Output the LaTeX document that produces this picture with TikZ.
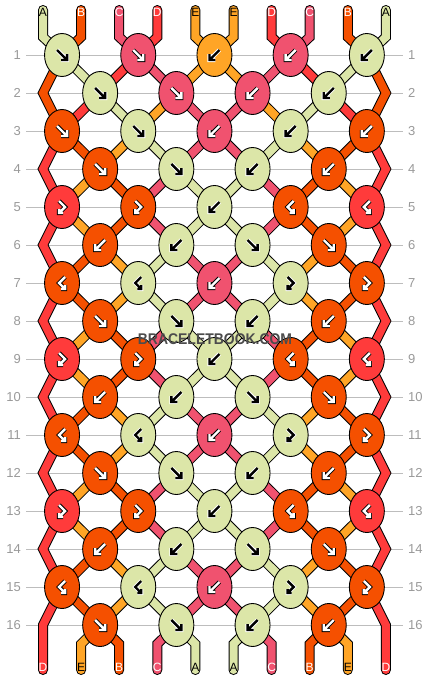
\documentclass[tikz,border=0pt]{standalone}
\usepackage{fontspec}
\setmainfont{Liberation Sans}
\usetikzlibrary{shapes.geometric,backgrounds}

\definecolor{strA}{HTML}{DCE6A8}
\definecolor{strB}{HTML}{F55000}
\definecolor{strC}{HTML}{F0526F}
\definecolor{strD}{HTML}{FF3B3B}
\definecolor{strE}{HTML}{FFA526}
\definecolor{rowgray}{HTML}{BDBDBD}
\definecolor{numgray}{HTML}{999999}

\tikzset{
  knot/.style={ellipse, draw=black, line width=0.9pt, fill=#1, minimum width=35pt, minimum height=43pt, inner sep=0pt},
  strand/.style={draw=black, line width=1pt, double=#1, double distance=8pt, line cap=round, line join=miter},
  dk/.style={draw=white, line width=0.9pt, double=black, double distance=2.4pt, line join=miter},
  lt/.style={draw=black, line width=0.9pt, double=white, double distance=2.4pt, line join=miter},
  pics/fwd/.style={code={\draw[#1] (-5,-5) -- (5,5) (-1,5) -- (5,5) -- (5,-1);}},
  pics/bwd/.style={code={\draw[#1] (5,-5) -- (-5,5) (1,5) -- (-5,5) -- (-5,-1);}},
  pics/fwdbwd/.style={code={\draw[#1] (-3,-6) -- (3,0) -- (-3,6) (1,6) -- (-3,6) -- (-3,2);}},
  pics/bwdfwd/.style={code={\draw[#1] (3,-6) -- (-3,0) -- (3,6) (-1,6) -- (3,6) -- (3,2);}},
  rowno/.style={inner sep=5pt, text=numgray, font=\fontsize{13}{13}\selectfont},
  rowline/.style={draw=rowgray, line width=1pt},
  endlbl/.style={inner sep=0pt, text=#1, font=\fontsize{12}{12}\selectfont},
}

\begin{document}
\begin{tikzpicture}[x=1pt,y=-1pt]
\useasboundingbox (0,0) rectangle (430,680);
%% knots, row by row
\node (r1a) at (62.05,55) [knot=strA] {}; \pic at (r1a) {fwd=dk};
\node (r1b) at (138.25,55) [knot=strC] {}; \pic at (r1b) {fwd=lt};
\node (r1c) at (214.45,55) [knot=strE] {}; \pic at (r1c) {bwd=dk};
\node (r1d) at (290.65,55) [knot=strC] {}; \pic at (r1d) {bwd=lt};
\node (r1e) at (366.85,55) [knot=strA] {}; \pic at (r1e) {bwd=dk};
\node (r2a) at (100.15,93) [knot=strA] {}; \pic at (r2a) {fwd=dk};
\node (r2b) at (176.35,93) [knot=strC] {}; \pic at (r2b) {fwd=lt};
\node (r2c) at (252.55,93) [knot=strC] {}; \pic at (r2c) {bwd=lt};
\node (r2d) at (328.75,93) [knot=strA] {}; \pic at (r2d) {bwd=dk};
\node (r3a) at (62.05,131) [knot=strB] {}; \pic at (r3a) {fwd=lt};
\node (r3b) at (138.25,131) [knot=strA] {}; \pic at (r3b) {fwd=dk};
\node (r3c) at (214.45,131) [knot=strC] {}; \pic at (r3c) {bwd=lt};
\node (r3d) at (290.65,131) [knot=strA] {}; \pic at (r3d) {bwd=dk};
\node (r3e) at (366.85,131) [knot=strB] {}; \pic at (r3e) {bwd=lt};
\node (r4a) at (100.15,169) [knot=strB] {}; \pic at (r4a) {fwd=lt};
\node (r4b) at (176.35,169) [knot=strA] {}; \pic at (r4b) {fwd=dk};
\node (r4c) at (252.55,169) [knot=strA] {}; \pic at (r4c) {bwd=dk};
\node (r4d) at (328.75,169) [knot=strB] {}; \pic at (r4d) {bwd=lt};
\node (r5a) at (62.05,207) [knot=strD] {}; \pic at (r5a) {fwdbwd=lt};
\node (r5b) at (138.25,207) [knot=strB] {}; \pic at (r5b) {fwdbwd=lt};
\node (r5c) at (214.45,207) [knot=strA] {}; \pic at (r5c) {bwd=dk};
\node (r5d) at (290.65,207) [knot=strB] {}; \pic at (r5d) {bwdfwd=lt};
\node (r5e) at (366.85,207) [knot=strD] {}; \pic at (r5e) {bwdfwd=lt};
\node (r6a) at (100.15,245) [knot=strB] {}; \pic at (r6a) {bwd=lt};
\node (r6b) at (176.35,245) [knot=strA] {}; \pic at (r6b) {bwd=dk};
\node (r6c) at (252.55,245) [knot=strA] {}; \pic at (r6c) {fwd=dk};
\node (r6d) at (328.75,245) [knot=strB] {}; \pic at (r6d) {fwd=lt};
\node (r7a) at (62.05,283) [knot=strB] {}; \pic at (r7a) {bwdfwd=lt};
\node (r7b) at (138.25,283) [knot=strA] {}; \pic at (r7b) {bwdfwd=dk};
\node (r7c) at (214.45,283) [knot=strC] {}; \pic at (r7c) {bwd=lt};
\node (r7d) at (290.65,283) [knot=strA] {}; \pic at (r7d) {fwdbwd=dk};
\node (r7e) at (366.85,283) [knot=strB] {}; \pic at (r7e) {fwdbwd=lt};
\node (r8a) at (100.15,321) [knot=strB] {}; \pic at (r8a) {fwd=lt};
\node (r8b) at (176.35,321) [knot=strA] {}; \pic at (r8b) {fwd=dk};
\node (r8c) at (252.55,321) [knot=strA] {}; \pic at (r8c) {bwd=dk};
\node (r8d) at (328.75,321) [knot=strB] {}; \pic at (r8d) {bwd=lt};
\node (r9a) at (62.05,359) [knot=strD] {}; \pic at (r9a) {fwdbwd=lt};
\node (r9b) at (138.25,359) [knot=strB] {}; \pic at (r9b) {fwdbwd=lt};
\node (r9c) at (214.45,359) [knot=strA] {}; \pic at (r9c) {bwd=dk};
\node (r9d) at (290.65,359) [knot=strB] {}; \pic at (r9d) {bwdfwd=lt};
\node (r9e) at (366.85,359) [knot=strD] {}; \pic at (r9e) {bwdfwd=lt};
\node (r10a) at (100.15,397) [knot=strB] {}; \pic at (r10a) {bwd=lt};
\node (r10b) at (176.35,397) [knot=strA] {}; \pic at (r10b) {bwd=dk};
\node (r10c) at (252.55,397) [knot=strA] {}; \pic at (r10c) {fwd=dk};
\node (r10d) at (328.75,397) [knot=strB] {}; \pic at (r10d) {fwd=lt};
\node (r11a) at (62.05,435) [knot=strB] {}; \pic at (r11a) {bwdfwd=lt};
\node (r11b) at (138.25,435) [knot=strA] {}; \pic at (r11b) {bwdfwd=dk};
\node (r11c) at (214.45,435) [knot=strC] {}; \pic at (r11c) {bwd=lt};
\node (r11d) at (290.65,435) [knot=strA] {}; \pic at (r11d) {fwdbwd=dk};
\node (r11e) at (366.85,435) [knot=strB] {}; \pic at (r11e) {fwdbwd=lt};
\node (r12a) at (100.15,473) [knot=strB] {}; \pic at (r12a) {fwd=lt};
\node (r12b) at (176.35,473) [knot=strA] {}; \pic at (r12b) {fwd=dk};
\node (r12c) at (252.55,473) [knot=strA] {}; \pic at (r12c) {bwd=dk};
\node (r12d) at (328.75,473) [knot=strB] {}; \pic at (r12d) {bwd=lt};
\node (r13a) at (62.05,511) [knot=strD] {}; \pic at (r13a) {fwdbwd=lt};
\node (r13b) at (138.25,511) [knot=strB] {}; \pic at (r13b) {fwdbwd=lt};
\node (r13c) at (214.45,511) [knot=strA] {}; \pic at (r13c) {bwd=dk};
\node (r13d) at (290.65,511) [knot=strB] {}; \pic at (r13d) {bwdfwd=lt};
\node (r13e) at (366.85,511) [knot=strD] {}; \pic at (r13e) {bwdfwd=lt};
\node (r14a) at (100.15,549) [knot=strB] {}; \pic at (r14a) {bwd=lt};
\node (r14b) at (176.35,549) [knot=strA] {}; \pic at (r14b) {bwd=dk};
\node (r14c) at (252.55,549) [knot=strA] {}; \pic at (r14c) {fwd=dk};
\node (r14d) at (328.75,549) [knot=strB] {}; \pic at (r14d) {fwd=lt};
\node (r15a) at (62.05,587) [knot=strB] {}; \pic at (r15a) {bwdfwd=lt};
\node (r15b) at (138.25,587) [knot=strA] {}; \pic at (r15b) {bwdfwd=dk};
\node (r15c) at (214.45,587) [knot=strC] {}; \pic at (r15c) {bwd=lt};
\node (r15d) at (290.65,587) [knot=strA] {}; \pic at (r15d) {fwdbwd=dk};
\node (r15e) at (366.85,587) [knot=strB] {}; \pic at (r15e) {fwdbwd=lt};
\node (r16a) at (100.15,625) [knot=strB] {}; \pic at (r16a) {fwd=lt};
\node (r16b) at (176.35,625) [knot=strA] {}; \pic at (r16b) {fwd=dk};
\node (r16c) at (252.55,625) [knot=strA] {}; \pic at (r16c) {bwd=dk};
\node (r16d) at (328.75,625) [knot=strB] {}; \pic at (r16d) {bwd=lt};
%% string ends and edge turns
\coordinate (tA1) at (43,10); \coordinate (tB1) at (81.1,10); \coordinate (tC1) at (119.2,10);
\coordinate (tD1) at (157.3,10); \coordinate (tE1) at (195.4,10); \coordinate (tE2) at (233.5,10);
\coordinate (tD2) at (271.6,10); \coordinate (tC2) at (309.7,10); \coordinate (tB2) at (347.8,10);
\coordinate (tA2) at (385.9,10);
\coordinate (bD1) at (43,670); \coordinate (bE2) at (81.1,670); \coordinate (bB1) at (119.2,670);
\coordinate (bC1) at (157.3,670); \coordinate (bA2) at (195.4,670); \coordinate (bA1) at (233.5,670);
\coordinate (bC2) at (271.6,670); \coordinate (bB2) at (309.7,670); \coordinate (bE1) at (347.8,670);
\coordinate (bD2) at (385.9,670);
\coordinate (edgeL2) at (43,93);    \coordinate (edgeR2) at (385.9,93);
\coordinate (edgeL4) at (43,169);   \coordinate (edgeR4) at (385.9,169);
\coordinate (edgeL6) at (43,245);   \coordinate (edgeR6) at (385.9,245);
\coordinate (edgeL8) at (43,321);   \coordinate (edgeR8) at (385.9,321);
\coordinate (edgeL10) at (43,397);  \coordinate (edgeR10) at (385.9,397);
\coordinate (edgeL12) at (43,473);  \coordinate (edgeR12) at (385.9,473);
\coordinate (edgeL14) at (43,549);  \coordinate (edgeR14) at (385.9,549);
\coordinate (edgeL16) at (43,625);  \coordinate (edgeR16) at (385.9,625);
%% end labels
\node (lA1) at (43,12.5) [endlbl=black] {A};    \node (lB1) at (81.1,12.5) [endlbl=white] {B};
\node (lC1) at (119.2,12.5) [endlbl=white] {C}; \node (lD1) at (157.3,12.5) [endlbl=white] {D};
\node (lE1) at (195.4,12.5) [endlbl=black] {E}; \node (lE2) at (233.5,12.5) [endlbl=black] {E};
\node (lD2) at (271.6,12.5) [endlbl=white] {D}; \node (lC2) at (309.7,12.5) [endlbl=white] {C};
\node (lB2) at (347.8,12.5) [endlbl=white] {B}; \node (lA2) at (385.9,12.5) [endlbl=black] {A};
\node (mD1) at (43,667) [endlbl=white] {D};    \node (mE2) at (81.1,667) [endlbl=black] {E};
\node (mB1) at (119.2,667) [endlbl=white] {B}; \node (mC1) at (157.3,667) [endlbl=white] {C};
\node (mA2) at (195.4,667) [endlbl=black] {A}; \node (mA1) at (233.5,667) [endlbl=black] {A};
\node (mC2) at (271.6,667) [endlbl=white] {C}; \node (mB2) at (309.7,667) [endlbl=white] {B};
\node (mE1) at (347.8,667) [endlbl=black] {E}; \node (mD2) at (385.9,667) [endlbl=white] {D};
%% watermark
\node (mark) at (215,339.5) [inner sep=0pt, text=black!70, font=\bfseries\fontsize{15.5}{15.5}\selectfont] {\scalebox{0.9}[1]{BRACELETBOOK.COM}};
%
\begin{scope}[on background layer]
\foreach \r in {1,...,16} {
  \node (lnum\r) at (26,{55+38*(\r-1)}) [rowno, anchor=east] {\r};
  \node (rnum\r) at (403,{55+38*(\r-1)}) [rowno, anchor=west] {\r};
  \draw [rowline] (lnum\r) -- (rnum\r);
}
\draw [strand=strA] (tA1) -- ([yshift=-27pt]tA1) -- (r1a.center) -- (r2a.center) -- (r3b.center) -- (r4b.center) -- (r5c.center) -- (r6c.center) -- (r7d.center) -- (r8c.center) -- (r9c.center) -- (r10b.center) -- (r11b.center) -- (r12b.center) -- (r13c.center) -- (r14c.center) -- (r15d.center) -- (r16c.center) -- ([yshift=26pt]bA1) -- (bA1);
\draw [strand=strA] (tA2) -- ([yshift=-27pt]tA2) -- (r1e.center) -- (r2d.center) -- (r3d.center) -- (r4c.center) -- (r5c.center) -- (r6b.center) -- (r7b.center) -- (r8b.center) -- (r9c.center) -- (r10c.center) -- (r11d.center) -- (r12c.center) -- (r13c.center) -- (r14b.center) -- (r15b.center) -- (r16b.center) -- ([yshift=26pt]bA2) -- (bA2);
\draw [strand=strB] (tB1) -- ([yshift=-27pt]tB1) -- (r1a.center) -- (edgeL2) -- (r3a.center) -- (r4a.center) -- (r5b.center) -- (r6a.center) -- (r7a.center) -- (r8a.center) -- (r9b.center) -- (r10a.center) -- (r11a.center) -- (r12a.center) -- (r13b.center) -- (r14a.center) -- (r15a.center) -- (r16a.center) -- ([yshift=26pt]bB1) -- (bB1);
\draw [strand=strB] (tB2) -- ([yshift=-27pt]tB2) -- (r1e.center) -- (edgeR2) -- (r3e.center) -- (r4d.center) -- (r5d.center) -- (r6d.center) -- (r7e.center) -- (r8d.center) -- (r9d.center) -- (r10d.center) -- (r11e.center) -- (r12d.center) -- (r13d.center) -- (r14d.center) -- (r15e.center) -- (r16d.center) -- ([yshift=26pt]bB2) -- (bB2);
\draw [strand=strC] (tC1) -- ([yshift=-27pt]tC1) -- (r1b.center) -- (r2b.center) -- (r3c.center) -- (r4c.center) -- (r5d.center) -- (r6c.center) -- (r7c.center) -- (r8b.center) -- (r9b.center) -- (r10b.center) -- (r11c.center) -- (r12c.center) -- (r13d.center) -- (r14c.center) -- (r15c.center) -- (r16b.center) -- ([yshift=26pt]bC1) -- (bC1);
\draw [strand=strC] (tC2) -- ([yshift=-27pt]tC2) -- (r1d.center) -- (r2c.center) -- (r3c.center) -- (r4b.center) -- (r5b.center) -- (r6b.center) -- (r7c.center) -- (r8c.center) -- (r9d.center) -- (r10c.center) -- (r11c.center) -- (r12b.center) -- (r13b.center) -- (r14b.center) -- (r15c.center) -- (r16c.center) -- ([yshift=26pt]bC2) -- (bC2);
\draw [strand=strD] (tD1) -- ([yshift=-27pt]tD1) -- (r1b.center) -- (r2a.center) -- (r3a.center) -- (edgeL4) -- (r5a.center) -- (edgeL6) -- (r7a.center) -- (edgeL8) -- (r9a.center) -- (edgeL10) -- (r11a.center) -- (edgeL12) -- (r13a.center) -- (edgeL14) -- (r15a.center) -- (edgeL16) -- (bD1);
\draw [strand=strD] (tD2) -- ([yshift=-27pt]tD2) -- (r1d.center) -- (r2d.center) -- (r3e.center) -- (edgeR4) -- (r5e.center) -- (edgeR6) -- (r7e.center) -- (edgeR8) -- (r9e.center) -- (edgeR10) -- (r11e.center) -- (edgeR12) -- (r13e.center) -- (edgeR14) -- (r15e.center) -- (edgeR16) -- (bD2);
\draw [strand=strE] (tE1) -- ([yshift=-27pt]tE1) -- (r1c.center) -- (r2c.center) -- (r3d.center) -- (r4d.center) -- (r5e.center) -- (r6d.center) -- (r7d.center) -- (r8d.center) -- (r9e.center) -- (r10d.center) -- (r11d.center) -- (r12d.center) -- (r13e.center) -- (r14d.center) -- (r15d.center) -- (r16d.center) -- ([yshift=26pt]bE1) -- (bE1);
\draw [strand=strE] (tE2) -- ([yshift=-27pt]tE2) -- (r1c.center) -- (r2b.center) -- (r3b.center) -- (r4a.center) -- (r5a.center) -- (r6a.center) -- (r7b.center) -- (r8a.center) -- (r9a.center) -- (r10a.center) -- (r11b.center) -- (r12a.center) -- (r13a.center) -- (r14a.center) -- (r15b.center) -- (r16a.center) -- ([yshift=26pt]bE2) -- (bE2);
\end{scope}
%
\end{tikzpicture}
\end{document}
